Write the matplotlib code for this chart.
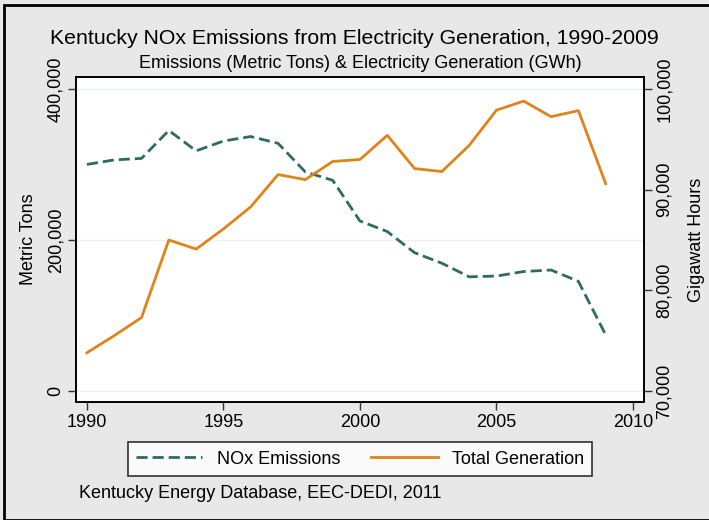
import matplotlib.pyplot as plt
from matplotlib.patches import Rectangle

plt.rcParams['font.family'] = ['Liberation Sans', 'DejaVu Sans']

# data
years = list(range(1990, 2010))
nox_tons = [300000, 306000, 308000, 345000, 318000, 331000, 337000, 328000, 290000, 279000,
            225000, 211000, 183000, 169000, 151000, 152000, 158000, 160000, 145000, 74000]
gen_gwh = [73800, 75500, 77300, 85000, 84100, 86100, 88300, 91500, 91000, 92800,
           93000, 95400, 92100, 91800, 94400, 97900, 98800, 97250, 97850, 90600]

teal = '#2F6B5E'
orange = '#DE8419'
bg = '#E8E8E8'

fig = plt.figure(figsize=(7.09, 5.20), dpi=100, facecolor=bg)
ax = fig.add_axes([0.1072, 0.2275, 0.801, 0.6238])
ax2 = ax.twinx()

for y in [0, 200000, 400000]:
    ax.axhline(y, color='#EDF1F1', lw=1, zorder=0)

ln1, = ax.plot(years, nox_tons, color=teal, lw=2, dashes=(4, 1.8), label='NOx Emissions')
ln2, = ax2.plot(years, gen_gwh, color=orange, lw=2, label='Total Generation')

ax.set_xlim(1989.6, 2010.4)
ax.set_ylim(-14600, 415500)
ax2.set_ylim(68940, 101160)

ax.set_xticks([1990, 1995, 2000, 2005, 2010])
ax.set_yticks([0, 200000, 400000])
ax.set_yticklabels(['0', '200,000', '400,000'], rotation=90, va='center')
ax2.set_yticks([70000, 80000, 90000, 100000])
ax2.set_yticklabels(['70,000', '80,000', '90,000', '100,000'], rotation=90, va='center')

for a in (ax, ax2):
    a.tick_params(labelsize=13, length=5.5, width=1, color='#333333', pad=3)
    for s in a.spines.values():
        s.set_color('black')
        s.set_linewidth(1.2)

ax.set_ylabel('Metric Tons', fontsize=13, labelpad=7)
ax2.set_ylabel('Gigawatt Hours', fontsize=13, labelpad=11)

fig.text(0.5, 1 - 38 / 520, 'Kentucky NOx Emissions from Electricity Generation, 1990-2009',
         ha='center', va='center', fontsize=15.3)
fig.text(360 / 709, 1 - 63 / 520, 'Emissions (Metric Tons) & Electricity Generation (GWh)',
         ha='center', va='center', fontsize=13)

leg = fig.legend([ln1, ln2], ['NOx Emissions', 'Total Generation'], ncol=2,
                 loc='center', bbox_to_anchor=(360 / 709, 1 - 459 / 520),
                 fontsize=13, frameon=True, fancybox=False, handlelength=3.7,
                 columnspacing=1.7, edgecolor='black', borderpad=0.45)
leg.get_frame().set_linewidth(1.2)

fig.text(79 / 709, 1 - 493 / 520, 'Kentucky Energy Database, EEC-DEDI, 2011',
         ha='left', va='center', fontsize=13)

fig.patches.append(Rectangle((4 / 709, 0), 1, 1 - 5 / 520, transform=fig.transFigure,
                             fill=False, edgecolor='black', lw=2))

fig.savefig('out.png', dpi=100, facecolor=bg)
